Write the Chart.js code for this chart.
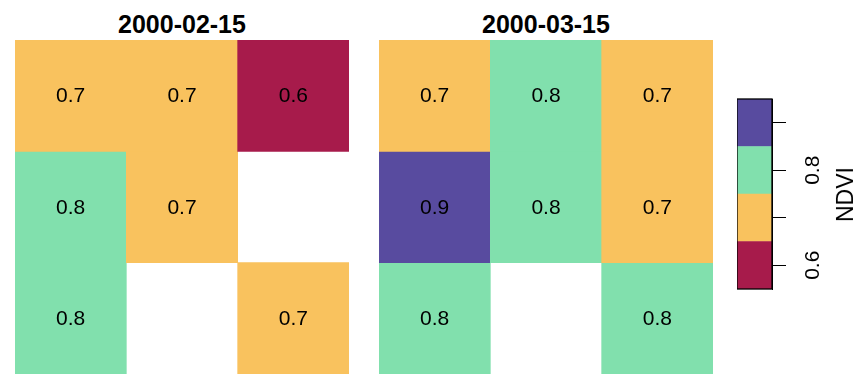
<!DOCTYPE html>
<html>
<head>
<meta charset="utf-8">
<script src="https://cdn.jsdelivr.net/npm/chart.js@4.4.0/dist/chart.umd.min.js"></script>
<style>
  html, body { margin: 0; padding: 0; background: #fff; }
  body { width: 864px; height: 384px; position: relative; overflow: hidden; font-family: "Liberation Sans", Arial, sans-serif; }
  .wrap { position: absolute; }
  .title { position: absolute; font-weight: bold; font-size: 25px; color: #000; text-align: center; width: 334px; line-height: 25px; }
  .ndvi { position: absolute; font-size: 23px; color: #000; transform: rotate(-90deg); transform-origin: center center; white-space: nowrap; line-height: 23px; }
</style>
</head>
<body>
<div class="title" style="left:15px; top:12px;" id="t1"></div>
<div class="title" style="left:379px; top:12px;" id="t2"></div>
<div class="wrap" style="left:15px; top:40px; width:334px; height:334px;"><canvas id="p1"></canvas></div>
<div class="wrap" style="left:379px; top:40px; width:334px; height:334px;"><canvas id="p2"></canvas></div>
<div class="wrap" style="left:737px; top:69px; width:115px; height:250px;"><canvas id="cb"></canvas></div>
<div class="ndvi" id="ndvi" style="left:818px; top:183px;"></div>
<script>
// ---- data ----
const dates = ["2000-02-15", "2000-03-15"];
const columns = ["c1", "c2", "c3"];
// rows top -> bottom, null = missing
const panel1Row1 = [0.7, 0.7, 0.6];
const panel1Row2 = [0.8, 0.7, null];
const panel1Row3 = [0.8, null, 0.7];
const panel2Row1 = [0.7, 0.8, 0.7];
const panel2Row2 = [0.9, 0.8, 0.7];
const panel2Row3 = [0.8, null, 0.8];
const legendBreaks = [0.55, 0.65, 0.75, 0.85, 0.95];
const legendColors = ["#A71B4B", "#F9C25E", "#81E0AD", "#584B9F"];
const legendTicks = [0.6, 0.7, 0.8, 0.9];
const legendTickLabels = ["0.6", "", "0.8", ""];
const legendTitle = "NDVI";

Chart.defaults.font.family = '"Liberation Sans", Arial, sans-serif';
Chart.defaults.color = '#000';
Chart.defaults.animation = false;

document.getElementById('t1').textContent = dates[0];
document.getElementById('t2').textContent = dates[1];
document.getElementById('ndvi').textContent = legendTitle;

function colorFor(v) {
  if (v === null) return 'rgba(0,0,0,0)';
  for (let i = 0; i < legendColors.length; i++) {
    if (v >= legendBreaks[i] && v < legendBreaks[i + 1]) return legendColors[i];
  }
  return legendColors[legendColors.length - 1];
}

const cellLabels = {
  id: 'cellLabels',
  afterDatasetsDraw(chart) {
    const ctx = chart.ctx;
    ctx.save();
    ctx.font = '21px "Liberation Sans", Arial, sans-serif';
    ctx.fillStyle = '#000';
    ctx.textAlign = 'center';
    ctx.textBaseline = 'middle';
    chart.data.datasets.forEach((ds, di) => {
      const meta = chart.getDatasetMeta(di);
      meta.data.forEach((el, i) => {
        const v = ds.values[i];
        if (v === null) return;
        const c = el.getCenterPoint();
        ctx.fillText(v.toFixed(1), c.x, c.y + 1);
      });
    });
    ctx.restore();
  }
};

function makePanel(id, rows) {
  const datasets = rows.map((vals, r) => ({
    values: vals,
    data: vals.map(v => v === null ? null : [r, r + 1]),
    backgroundColor: vals.map(colorFor),
    borderWidth: 0,
    barPercentage: 1,
    categoryPercentage: 1,
    grouped: false
  }));
  new Chart(document.getElementById(id), {
    type: 'bar',
    data: { labels: columns, datasets },
    options: {
      responsive: true,
      maintainAspectRatio: false,
      layout: { padding: 0 },
      plugins: { legend: { display: false }, tooltip: { enabled: false } },
      scales: {
        x: { display: false, offset: true },
        y: { display: false, min: 0, max: 3, reverse: true }
      }
    },
    plugins: [cellLabels]
  });
}

makePanel('p1', [panel1Row1, panel1Row2, panel1Row3]);
makePanel('p2', [panel2Row1, panel2Row2, panel2Row3]);

// ---- colour bar ----
const frame = {
  id: 'frame',
  afterDatasetsDraw(chart) {
    const a = chart.chartArea;
    const ctx = chart.ctx;
    ctx.save();
    ctx.strokeStyle = '#000';
    ctx.lineWidth = 1.3;
    ctx.strokeRect(a.left, a.top, a.right - a.left, a.bottom - a.top);
    ctx.restore();
  }
};

new Chart(document.getElementById('cb'), {
  type: 'bar',
  data: {
    labels: ['bar'],
    datasets: legendColors.map((c, i) => ({
      data: [[legendBreaks[i], legendBreaks[i + 1]]],
      backgroundColor: c,
      borderWidth: 0,
      barPercentage: 1,
      categoryPercentage: 1,
      grouped: false
    }))
  },
  options: {
    responsive: true,
    maintainAspectRatio: false,
    layout: { padding: { top: 30, bottom: 30, left: 0, right: 0 } },
    plugins: { legend: { display: false }, tooltip: { enabled: false } },
    scales: {
      x: { display: false, offset: true },
      y: {
        position: 'right',
        min: legendBreaks[0],
        max: legendBreaks[legendBreaks.length - 1],
        afterBuildTicks(scale) { scale.ticks = legendTicks.map(v => ({ value: v })); },
        afterFit(scale) { scale.width = 80; },
        grid: { drawOnChartArea: false, drawTicks: true, tickLength: 14, color: '#000', lineWidth: 1 },
        border: { display: true, color: '#000', width: 1 },
        ticks: {
          color: '#000',
          font: { size: 21 },
          minRotation: 90,
          maxRotation: 90,
          crossAlign: 'center',
          padding: 13,
          autoSkip: false,
          callback(value, index) { return legendTickLabels[index]; }
        }
      }
    }
  },
  plugins: [frame]
});
</script>
</body>
</html>
